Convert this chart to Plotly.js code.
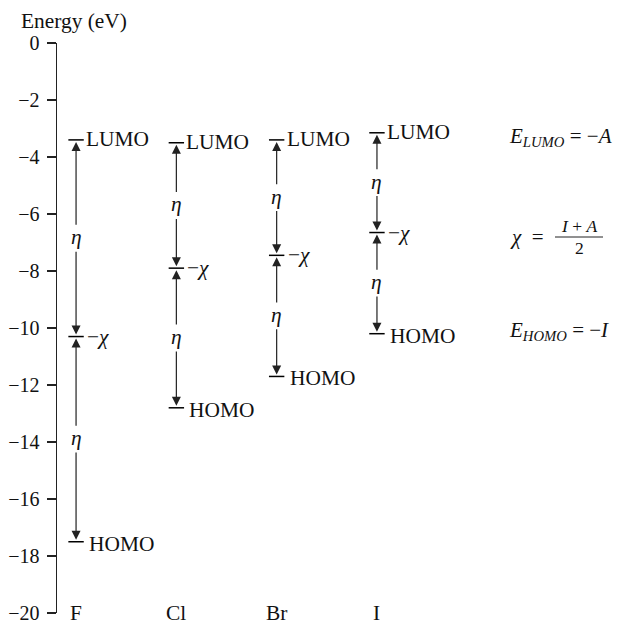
<!DOCTYPE html>
<html><head><meta charset="utf-8">
<script src="https://cdn.plot.ly/plotly-3.0.1.min.js"></script>
<style>html,body{margin:0;padding:0;background:#fff;}#c{width:623px;height:621px;}</style>
</head><body><div id="c"></div>
<script>
const categories = ['F', 'Cl', 'Br', 'I'];
const lumo   = [-3.4, -3.5, -3.4, -3.15];
const negChi = [-10.3, -7.9, -7.45, -6.65];
const homo   = [-17.5, -12.8, -11.7, -10.2];
const yTicks = [0, -2, -4, -6, -8, -10, -12, -14, -16, -18, -20];

const FONT = 'Liberation Serif, Times New Roman, serif';
const W = 623, H = 621;
const M = {l: 57, r: 0, t: 43, b: 8};
const pw = W - M.l - M.r, ph = H - M.t - M.b;
const px = v => (v - M.l) / pw;          // page px -> paper x
const py = v => 1 - (v - M.t) / ph;      // page px -> paper y
const FS = 21.4;

const xs = categories.map((c, i) => i);
const traces = [{
  type: 'scatter', mode: 'markers',
  x: xs.concat(xs, xs), y: lumo.concat(negChi, homo),
  marker: {symbol: 'line-ew', size: 11, line: {width: 1.5, color: '#000'}},
  hoverinfo: 'skip', showlegend: false
}];

const ann = [];
const txt = (x, y, text, o) => ann.push(Object.assign({x, y, xref: 'x', yref: 'y', text, showarrow: false,
  xanchor: 'center', yanchor: 'middle', font: {family: FONT, size: FS, color: '#111'}}, o || {}));
const arrow = (x, yHead, yTail) => ann.push({x, y: yHead, ax: x, ay: yTail, xref: 'x', yref: 'y',
  axref: 'x', ayref: 'y', text: '', showarrow: true, arrowhead: 2, arrowsize: 1.5, arrowwidth: 1.2,
  arrowcolor: '#222', standoff: 2, startstandoff: 0});

const gap = 0.42;
xs.forEach(i => {
  const eU = (lumo[i] + negChi[i]) / 2, eL = (negChi[i] + homo[i]) / 2;
  arrow(i, lumo[i], eU + gap);
  arrow(i, negChi[i], eU - gap);
  arrow(i, negChi[i], eL + gap);
  arrow(i, homo[i], eL - gap);
  txt(i, eU, '<i>η</i>', {yshift: 1});
  txt(i, eL, '<i>η</i>', {yshift: 1});
  txt(i, lumo[i], 'LUMO', {xanchor: 'left', xshift: 8, yshift: 1});
  txt(i, negChi[i], '−<i>χ</i>', {xanchor: 'left', xshift: 9});
  txt(i, homo[i], 'HOMO', {xanchor: 'left', xshift: 11, yshift: -2});
  txt(i, -20, categories[i], {yshift: 0});
});

const pann = (xp, yp, text, o) => ann.push(Object.assign({x: px(xp), y: py(yp), xref: 'paper', yref: 'paper',
  text, showarrow: false, xanchor: 'center', yanchor: 'middle',
  font: {family: FONT, size: FS, color: '#111'}}, o || {}));
pann(19, 21, 'Energy (eV)', {xanchor: 'left'});
const fF = {family: FONT, size: 21, color: '#111'};
pann(507, 137, '<i>E</i><sub><i>LUMO</i></sub> = −<i>A</i>', {xanchor: 'left', font: fF});
pann(507, 331, '<i>E</i><sub><i>HOMO</i></sub> = −<i>I</i>', {xanchor: 'left', font: fF});
pann(508, 237, '<i>χ</i>  =', {xanchor: 'left', font: fF});
pann(579, 226, '<i>I</i> + <i>A</i>', {font: {family: FONT, size: 17.5, color: '#111'}});
pann(579, 248, '2', {font: {family: FONT, size: 17.5, color: '#111'}});

const layout = {
  width: W, height: H, margin: M, paper_bgcolor: '#fff', plot_bgcolor: '#fff',
  font: {family: FONT, color: '#111'},
  xaxis: {range: [-0.19, -0.19 + pw / 100.3], visible: false, fixedrange: true},
  yaxis: {range: [-20, 0], tickvals: yTicks, ticktext: yTicks.map(v => v === 0 ? '0' : '−' + Math.abs(v)),
    ticks: 'outside', ticklen: 9, tickwidth: 1.3, tickcolor: '#222', showline: true, linecolor: '#222',
    linewidth: 1.5, showgrid: false, zeroline: false, tickfont: {family: FONT, size: 20, color: '#111'},
    ticklabelstandoff: 3, ticklabeloverflow: 'allow'},
  shapes: [{type: 'line', xref: 'paper', yref: 'paper', x0: px(555), x1: px(603), y0: py(237), y1: py(237),
    line: {color: '#222', width: 1}}],
  annotations: ann, showlegend: false
};
Plotly.newPlot('c', traces, layout, {staticPlot: true, displayModeBar: false});
</script></body></html>
